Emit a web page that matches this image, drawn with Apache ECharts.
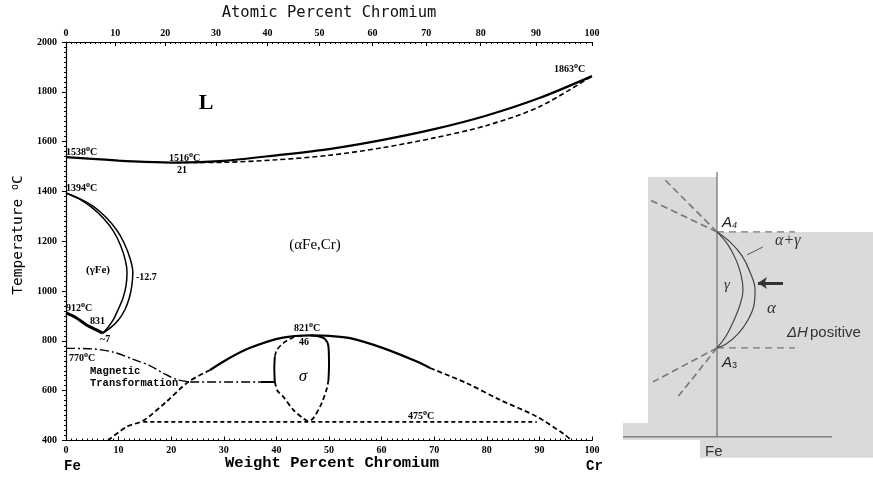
<!DOCTYPE html>
<html>
<head>
<meta charset="utf-8">
<script src="https://cdn.jsdelivr.net/npm/echarts@6/dist/echarts.min.js"></script>
<style>
html,body{margin:0;padding:0;background:#fff}
#chart{width:873px;height:477px}
</style>
</head>
<body>
<div id="chart"></div>
<script>
// ---- Fe-Cr diagram (weight % Cr, temperature C) ----
var liquidus = [[0,1538],[5,1531],[10,1524],[15,1519],[21,1516],[30,1523],[40,1545],[50,1570],[60,1606],[70,1650],[80,1705],[90,1775],[100,1863]];
var solidus = [[21,1516],[30,1517],[40,1527],[50,1545],[60,1575],[70,1615],[80,1665],[90,1740],[100,1863]];
var gammaOuter = [[0,1394],[2.5,1372],[5.2,1340],[7.5,1298],[9.6,1246],[11,1195],[12.2,1130],[12.7,1075],[12.5,1020],[12,970],[11.2,925],[10,885],[8.6,855],[7,831]];
var gammaInner = [[0,1394],[2.5,1370],[5,1334],[7.2,1290],[9.1,1238],[10.4,1182],[11.3,1122],[11.6,1075],[11.4,1020],[10.8,970],[9.9,925],[9,885],[8,855],[7,831]];
var gammaLow = [[0,912],[2,892],[3.9,864],[5.8,844],[7,831]];
var magnetic = [[0,770],[5,768],[9,755],[12.8,726],[16,700],[18.5,670],[21,645],[23.6,635]];
var magneticFlat = [[23.6,635],[37,635]];
var magneticEnd = [[37,635],[39.7,635]];
var domeLeftDash = [[8,400],[11.5,455],[14.7,480],[19.1,556],[23.3,636],[27.4,683]];
var domeSolid = [[27.4,683],[31,730],[35,772],[41,812],[46.5,822],[50,820],[54,811],[60.3,771],[66.7,717],[69.2,691]];
var domeRightDash = [[69.2,691],[76.2,630],[82.5,563],[89.5,496],[94.9,422],[96,402]];
var line475 = [[14.7,475],[89.5,475]];
var sigmaLeftSolid = [[39.7,636],[39.6,690],[39.7,737]];
var sigmaLeftTop = [[39.7,737],[40.1,764],[41.3,791],[43.2,814],[45.5,822]];
var sigmaBottom = [[39.7,636],[40.2,600],[41.3,576],[43.2,523],[45.1,489],[46,478],[47,489],[48.6,550],[49.6,610],[49.9,643]];
var sigmaRightSolid = [[49.9,643],[50,700],[49.9,777],[49.2,808],[47.8,819],[46.5,822]];

var weightTicks = [0,10,20,30,40,50,60,70,80,90,100];
var atomicTicks = [0,10,20,30,40,50,60,70,80,90,100];
var tempTicks = [400,600,800,1000,1200,1400,1600,1800,2000];

// ---- schematic (composition right of Fe, A3 = 0, A4 = 100) ----
var greyPatch = [[-59.5,147.4],[0,147.4],[0,100],[134.5,100],[134.5,-94.8],[-14.7,-94.8],[-14.7,-79.3],[-81,-79.3],[-81,-64.7],[-59.5,-64.7]];
var feLine = [[0,151.7],[0,-76.7]];
var baseLine = [[-81,-76.7],[99.1,-76.7]];
var a4Flat = [[0,100],[67.2,100]];
var a3Flat = [[0,0],[67.2,0]];
var a4Up1 = [[0,100],[-47,147]];
var a4Up2 = [[0,100],[-57.8,127.6]];
var a3Down1 = [[0,0],[-55.2,-29.3]];
var a3Down2 = [[0,0],[-34.5,-43.1]];
var lensOuter = [[0,100],[11.2,91.4],[21.6,79.3],[28.4,65.5],[32.8,50],[31.9,37.1],[26.7,24.1],[18.1,12.1],[7.8,3.4],[0,0]];
var lensInner = [[0,100],[9.5,88.8],[16.4,75.9],[20.7,62.9],[22.4,50],[19.8,37.1],[14.7,24.1],[7.8,10.3],[0,0]];
var leader = [[39.7,87.1],[25.9,80.2]];
var arrow = [[56.9,56],[35.3,56]];

function toWeight(a){ return a*52.00/(a*52.00+(100-a)*55.85)*100; }
var topPos = atomicTicks.map(toWeight);
var topFine = [];
for (var i = 0; i <= 100; i++) topFine.push(toWeight(i));

var chart = echarts.init(document.getElementById('chart'));

var tickFont = {fontFamily:'Liberation Serif', fontWeight:'bold', fontSize:10, color:'#000'};
var blk = '#000';

function mainLine(data, width, type, smooth){
    return {type:'line', xAxisIndex:0, yAxisIndex:0, data:data, showSymbol:false, symbol:'none',
        smooth:smooth === undefined ? 0.3 : smooth, silent:true, z:5,
        lineStyle:{color:blk, width:width, type:type || 'solid'}};
}
function schemLine(data, width, type, color, smooth){
    return {type:'line', xAxisIndex:3, yAxisIndex:2, data:data, showSymbol:false, symbol:'none',
        smooth:smooth || 0, silent:true, z:3,
        lineStyle:{color:color, width:width, type:type || 'solid'}};
}
function deg(t){ return '{n|' + t + '}{o|o}{n|C}'; }
var degRich = {
    n:{fontFamily:'Liberation Serif', fontWeight:'bold', fontSize:10, lineHeight:12, verticalAlign:'bottom'},
    o:{fontFamily:'Liberation Serif', fontWeight:'bold', fontSize:8, lineHeight:12, verticalAlign:'top'}
};
function txt(x, y, text, font, extra){
    var s = {text:text, font:font, fill:'#000', align:'left', verticalAlign:'middle'};
    for (var k in extra) s[k] = extra[k];
    return {type:'text', x:x, y:y, z:20, silent:true, style:s};
}
function degTxt(x, y, t){
    return {type:'text', x:x, y:y, z:20, silent:true,
        style:{text:deg(t), rich:degRich, fill:'#000', align:'left', verticalAlign:'middle'}};
}
function plain(v){ return String(v); }

var option = {
    animation:false,
    backgroundColor:'#fff',
    grid:[
        {left:66, right:281, top:42, bottom:36.5},
        {left:619.56, top:160, width:252.9, height:309.7}
    ],
    xAxis:[
        {gridIndex:0, type:'value', position:'bottom', min:0, max:100, interval:10,
            axisLine:{lineStyle:{color:blk, width:1.2}},
            axisTick:{inside:true, length:4, lineStyle:{color:blk}},
            minorTick:{show:true, splitNumber:10, length:2, lineStyle:{color:blk}},
            axisLabel:Object.assign({margin:5, formatter:plain}, tickFont),
            splitLine:{show:false}},
        {gridIndex:0, type:'value', position:'top', min:0, max:100,
            axisLine:{lineStyle:{color:blk, width:1.2}},
            axisTick:{inside:true, length:4, customValues:topPos, lineStyle:{color:blk}},
            axisLabel:Object.assign({margin:4, customValues:topPos, formatter:function(v){
                for (var j = 0; j < topPos.length; j++) if (Math.abs(topPos[j]-v) < 1e-6) return String(atomicTicks[j]);
                return '';
            }}, tickFont),
            splitLine:{show:false}},
        {gridIndex:0, type:'value', position:'top', min:0, max:100,
            axisLine:{show:false},
            axisTick:{inside:true, length:2, customValues:topFine, lineStyle:{color:blk}},
            axisLabel:{show:false}, splitLine:{show:false}},
        {gridIndex:1, type:'value', min:-84, max:134, show:false}
    ],
    yAxis:[
        {gridIndex:0, type:'value', position:'left', min:400, max:2000, interval:200,
            axisLine:{lineStyle:{color:blk, width:1.2}},
            axisTick:{length:4, lineStyle:{color:blk}},
            minorTick:{show:true, splitNumber:10, length:2, lineStyle:{color:blk}},
            axisLabel:Object.assign({margin:9, formatter:plain}, tickFont),
            splitLine:{show:false}},
        {gridIndex:0, type:'value', position:'right', min:400, max:2000, interval:200,
            axisLine:{lineStyle:{color:blk, width:1, type:[2,1]}},
            axisTick:{inside:true, length:4, lineStyle:{color:blk}},
            minorTick:{show:true, splitNumber:10, length:2, lineStyle:{color:blk}},
            axisLabel:{show:false}, splitLine:{show:false}},
        {gridIndex:1, type:'value', min:-105, max:162, show:false}
    ],
    series:[
        mainLine(liquidus, 2.2),
        mainLine(solidus, 1.6, [5,3]),
        mainLine(gammaOuter, 1.5),
        mainLine(gammaInner, 1.5),
        mainLine(gammaLow, 3),
        mainLine(magnetic, 1.4, [9,3,2,3]),
        mainLine(magneticFlat, 1.4, [9,3,2,3], 0),
        mainLine(magneticEnd, 2, 'solid', 0),
        mainLine(domeLeftDash, 1.8, [5,3]),
        mainLine(domeSolid, 2.2),
        mainLine(domeRightDash, 1.8, [5,3]),
        mainLine(line475, 1.8, [4,3], 0),
        mainLine(sigmaLeftSolid, 2),
        mainLine(sigmaLeftTop, 1.6, [5,3]),
        mainLine(sigmaBottom, 1.8, [5,3]),
        mainLine(sigmaRightSolid, 2),
        {type:'custom', xAxisIndex:3, yAxisIndex:2, data:[0], silent:true, z:1, clip:false,
            renderItem:function(params, api){
                return {type:'polygon', shape:{points:greyPatch.map(function(p){ return api.coord(p); })},
                    style:{fill:'#dadada'}};
            }},
        schemLine(feLine, 1, 'solid', '#555'),
        schemLine(baseLine, 1, 'solid', '#555'),
        schemLine(a4Flat, 1.3, [7,5], '#777'),
        schemLine(a3Flat, 1.3, [7,5], '#777'),
        schemLine(a4Up1, 1.6, [7,4], '#777'),
        schemLine(a4Up2, 1.6, [7,4], '#777'),
        schemLine(a3Down1, 1.6, [7,4], '#777'),
        schemLine(a3Down2, 1.6, [7,4], '#777'),
        schemLine(lensOuter, 1.2, 'solid', '#444', 0.4),
        schemLine(lensInner, 1.2, 'solid', '#444', 0.4),
        schemLine(leader, 1, 'solid', '#555'),
        {type:'lines', coordinateSystem:'cartesian2d', xAxisIndex:3, yAxisIndex:2, silent:true, z:4,
            symbol:['none','arrow'], symbolSize:9,
            lineStyle:{color:'#333', width:3, opacity:1},
            data:[{coords:arrow}]}
    ],
    graphic:[
        txt(329, 13, 'Atomic Percent Chromium', '15.5px "DejaVu Sans Mono"', {align:'center', fill:'#111'}),
        txt(332, 463, 'Weight Percent Chromium', 'bold 15.5px "Liberation Mono"', {align:'center'}),
        txt(64, 466, 'Fe', 'bold 14px "Liberation Mono"'),
        txt(586, 466, 'Cr', 'bold 14px "Liberation Mono"'),
        {type:'text', x:18, y:235, rotation:Math.PI/2, z:20, silent:true,
            style:{text:'{t|Temperature }{o|o}{t|C}', align:'center', verticalAlign:'middle', fill:'#000',
                rich:{t:{font:'14.5px "DejaVu Sans Mono"', lineHeight:16, verticalAlign:'bottom'},
                      o:{font:'10px "DejaVu Sans Mono"', lineHeight:16, verticalAlign:'top'}}}},
        txt(206, 103, 'L', 'bold 22px "Liberation Serif"', {align:'center'}),
        txt(315, 245, '(\u03b1Fe,Cr)', '15px "Liberation Serif"', {align:'center'}),
        txt(98, 270, '(\u03b3Fe)', 'bold 11px "Liberation Serif"', {align:'center'}),
        degTxt(66, 151, '1538'),
        degTxt(169, 157, '1516'),
        txt(177, 170, '21', 'bold 10px "Liberation Serif"'),
        degTxt(554, 68, '1863'),
        degTxt(66, 187, '1394'),
        txt(136, 277, '-12.7', 'bold 10px "Liberation Serif"'),
        degTxt(66, 307, '912'),
        txt(90, 321, '831', 'bold 10px "Liberation Serif"'),
        txt(100, 339, '~7', 'bold 10px "Liberation Serif"'),
        degTxt(69, 357, '770'),
        txt(90, 371, 'Magnetic', 'bold 10.5px "Liberation Mono"'),
        txt(90, 383, 'Transformation', 'bold 10.5px "Liberation Mono"'),
        degTxt(294, 327, '821'),
        txt(299, 342, '46', 'bold 10px "Liberation Serif"'),
        txt(303, 377, '\u03c3', 'italic 17px "Liberation Serif"', {align:'center'}),
        degTxt(408, 415, '475'),
        // schematic labels
        {type:'text', x:722, y:222, z:20, silent:true,
            style:{text:'{a|A}{s|4}', fill:'#222', verticalAlign:'middle',
                rich:{a:{font:'italic 15px "Liberation Sans"', lineHeight:16, verticalAlign:'bottom'},
                      s:{font:'italic 9px "Liberation Sans"', lineHeight:16, verticalAlign:'bottom'}}}},
        {type:'text', x:722, y:362, z:20, silent:true,
            style:{text:'{a|A}{s|3}', fill:'#222', verticalAlign:'middle',
                rich:{a:{font:'italic 15px "Liberation Sans"', lineHeight:16, verticalAlign:'bottom'},
                      s:{font:'9px "Liberation Sans"', lineHeight:16, verticalAlign:'bottom'}}}},
        txt(775, 241, '\u03b1+\u03b3', 'italic 16px "Liberation Serif"', {fill:'#333'}),
        txt(724, 285, '\u03b3', 'italic 15px "Liberation Serif"', {fill:'#333'}),
        txt(767, 309, '\u03b1', 'italic 17px "Liberation Serif"', {fill:'#333'}),
        txt(787, 333, '\u0394H', 'italic 15px "Liberation Sans"', {fill:'#333'}),
        txt(810, 333, 'positive', '15px "Liberation Sans"', {fill:'#333'}),
        txt(705, 452, 'Fe', '15px "Liberation Sans"', {fill:'#333'})
    ]
};
chart.setOption(option);
</script>
</body>
</html>
